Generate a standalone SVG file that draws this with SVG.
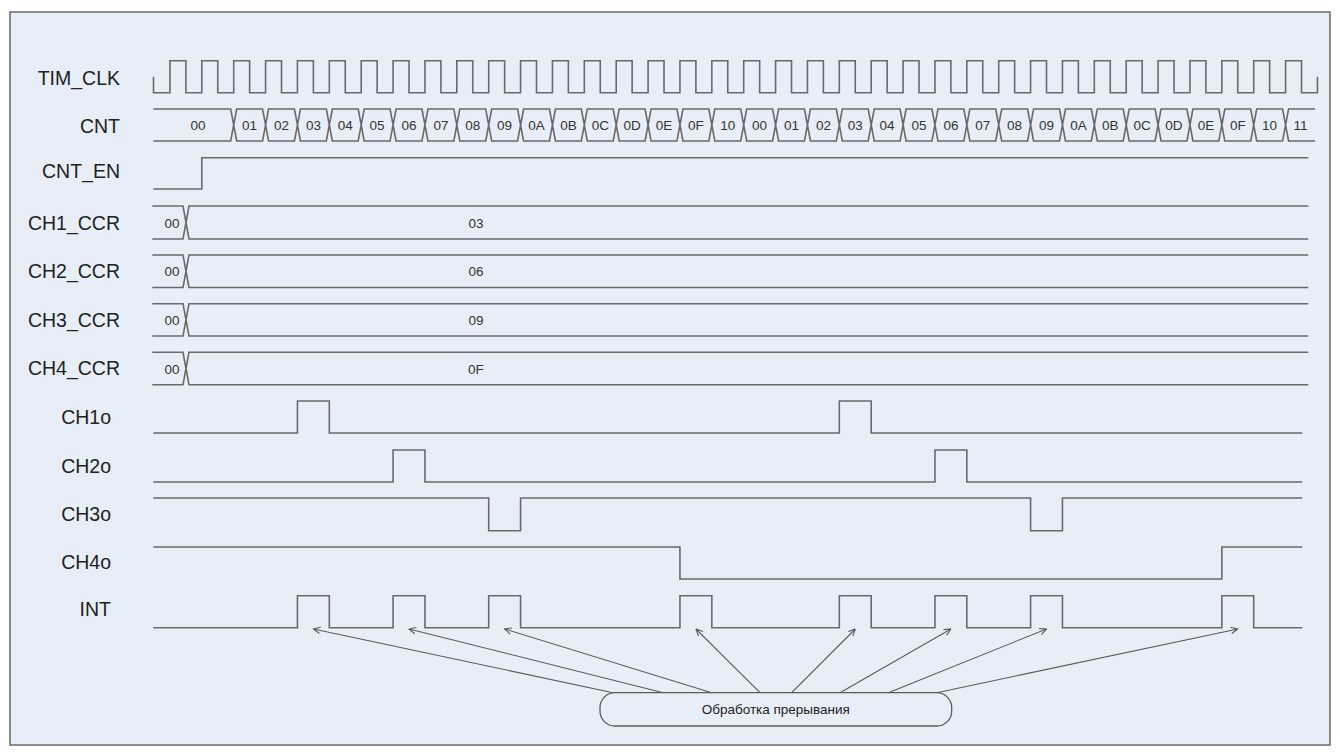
<svg xmlns="http://www.w3.org/2000/svg" width="1340" height="756" viewBox="0 0 1340 756">
<style>
.lbl{font-family:"Liberation Sans",Arial,sans-serif;font-size:19.5px;fill:#222;text-anchor:end}
.val{font-family:"Liberation Sans",Arial,sans-serif;font-size:13.5px;fill:#333;text-anchor:middle}
.w{fill:none;stroke:#6a6a6a;stroke-width:1.6;stroke-linejoin:miter}
.arr{fill:none;stroke:#5a5a5a;stroke-width:1.1;marker-end:url(#ah)}
</style>
<defs>
<marker id="ah" viewBox="0 0 10 10" refX="9.5" refY="5" markerWidth="8" markerHeight="8" markerUnits="userSpaceOnUse" orient="auto">
<path d="M1,1 L9.5,5 L1,9" fill="none" stroke="#5a5a5a" stroke-width="1.4"/>
</marker>
</defs>
<rect x="0" y="0" width="1340" height="756" fill="#ffffff"/>
<rect id="frame" x="10" y="12" width="1320" height="733" fill="#E8EEF8" stroke="#6a6a6a" stroke-width="1.5"/>

<g id="sig-tim-clk">
<text class="lbl" x="120" y="85">TIM_CLK</text>
<path class="w" d="M153.5,76.7V92.7H169.95
v-32h15.9375v32h15.9375 v-32h15.9375v32h15.9375 v-32h15.9375v32h15.9375 v-32h15.9375v32h15.9375 v-32h15.9375v32h15.9375 v-32h15.9375v32h15.9375
v-32h15.9375v32h15.9375 v-32h15.9375v32h15.9375 v-32h15.9375v32h15.9375 v-32h15.9375v32h15.9375 v-32h15.9375v32h15.9375 v-32h15.9375v32h15.9375
v-32h15.9375v32h15.9375 v-32h15.9375v32h15.9375 v-32h15.9375v32h15.9375 v-32h15.9375v32h15.9375 v-32h15.9375v32h15.9375 v-32h15.9375v32h15.9375
v-32h15.9375v32h15.9375 v-32h15.9375v32h15.9375 v-32h15.9375v32h15.9375 v-32h15.9375v32h15.9375 v-32h15.9375v32h15.9375 v-32h15.9375v32h15.9375
v-32h15.9375v32h15.9375 v-32h15.9375v32h15.9375 v-32h15.9375v32h15.9375 v-32h15.9375v32h15.9375 v-32h15.9375v32h15.9375 v-32h15.9375v32h15.9375
v-32h15.9375v32h15.9375 v-32h15.9375v32h15.9375 v-32h15.9375v32h15.9375 v-32h15.9375v32h15.9375 v-32h15.9375v32h15.9375 v-32h15.9375v32h15.9375
v-16"/>
</g>

<g id="sig-cnt">
<text class="lbl" x="120" y="132.5">CNT</text>
<path class="w" d="M153.3,109H230.7l3,16l-3,16H153.3
M233.7,125l3,-16h25.875l3,16l-3,16h-25.875z
M265.575,125l3,-16h25.875l3,16l-3,16h-25.875z
M297.45,125l3,-16h25.875l3,16l-3,16h-25.875z
M329.325,125l3,-16h25.875l3,16l-3,16h-25.875z
M361.2,125l3,-16h25.875l3,16l-3,16h-25.875z
M393.075,125l3,-16h25.875l3,16l-3,16h-25.875z
M424.95,125l3,-16h25.875l3,16l-3,16h-25.875z
M456.825,125l3,-16h25.875l3,16l-3,16h-25.875z
M488.7,125l3,-16h25.875l3,16l-3,16h-25.875z
M520.575,125l3,-16h25.875l3,16l-3,16h-25.875z
M552.45,125l3,-16h25.875l3,16l-3,16h-25.875z
M584.325,125l3,-16h25.875l3,16l-3,16h-25.875z
M616.2,125l3,-16h25.875l3,16l-3,16h-25.875z
M648.075,125l3,-16h25.875l3,16l-3,16h-25.875z
M679.95,125l3,-16h25.875l3,16l-3,16h-25.875z
M711.825,125l3,-16h25.875l3,16l-3,16h-25.875z
M743.7,125l3,-16h25.875l3,16l-3,16h-25.875z
M775.575,125l3,-16h25.875l3,16l-3,16h-25.875z
M807.45,125l3,-16h25.875l3,16l-3,16h-25.875z
M839.325,125l3,-16h25.875l3,16l-3,16h-25.875z
M871.2,125l3,-16h25.875l3,16l-3,16h-25.875z
M903.075,125l3,-16h25.875l3,16l-3,16h-25.875z
M934.95,125l3,-16h25.875l3,16l-3,16h-25.875z
M966.825,125l3,-16h25.875l3,16l-3,16h-25.875z
M998.7,125l3,-16h25.875l3,16l-3,16h-25.875z
M1030.575,125l3,-16h25.875l3,16l-3,16h-25.875z
M1062.45,125l3,-16h25.875l3,16l-3,16h-25.875z
M1094.325,125l3,-16h25.875l3,16l-3,16h-25.875z
M1126.2,125l3,-16h25.875l3,16l-3,16h-25.875z
M1158.075,125l3,-16h25.875l3,16l-3,16h-25.875z
M1189.95,125l3,-16h25.875l3,16l-3,16h-25.875z
M1221.825,125l3,-16h25.875l3,16l-3,16h-25.875z
M1253.7,125l3,-16h25.875l3,16l-3,16h-25.875z
M1285.575,125l3,-16H1315M1285.575,125l3,16H1315"/>
<g class="val">
<text x="198" y="130">00</text>
<text x="249.6" y="130">01</text>
<text x="281.5" y="130">02</text>
<text x="313.4" y="130">03</text>
<text x="345.3" y="130">04</text>
<text x="377.1" y="130">05</text>
<text x="409" y="130">06</text>
<text x="440.9" y="130">07</text>
<text x="472.8" y="130">08</text>
<text x="504.6" y="130">09</text>
<text x="536.5" y="130">0A</text>
<text x="568.4" y="130">0B</text>
<text x="600.3" y="130">0C</text>
<text x="632.1" y="130">0D</text>
<text x="664" y="130">0E</text>
<text x="695.9" y="130">0F</text>
<text x="727.8" y="130">10</text>
<text x="759.6" y="130">00</text>
<text x="791.5" y="130">01</text>
<text x="823.4" y="130">02</text>
<text x="855.3" y="130">03</text>
<text x="887.1" y="130">04</text>
<text x="919" y="130">05</text>
<text x="950.9" y="130">06</text>
<text x="982.8" y="130">07</text>
<text x="1014.6" y="130">08</text>
<text x="1046.5" y="130">09</text>
<text x="1078.4" y="130">0A</text>
<text x="1110.3" y="130">0B</text>
<text x="1142.1" y="130">0C</text>
<text x="1174" y="130">0D</text>
<text x="1205.9" y="130">0E</text>
<text x="1237.8" y="130">0F</text>
<text x="1269.6" y="130">10</text>
<text x="1300.5" y="130">11</text>
</g>
</g>

<g id="sig-cnt-en">
<text class="lbl" x="120" y="178">CNT_EN</text>
<path class="w" d="M153.3,189H201.8V157.7H1308.3"/>
</g>

<g id="sig-ch1-ccr">
<text class="lbl" x="120" y="229.5">CH1_CCR</text>
<path class="w" d="M152.3,206H183l3,16.5l-3,16.5H152.3M1308.3,206H189l-3,16.5l3,16.5H1308.3"/>
<text class="val" x="172" y="227.5">00</text>
<text class="val" x="476" y="227.5">03</text>
</g>

<g id="sig-ch2-ccr">
<text class="lbl" x="120" y="278">CH2_CCR</text>
<path class="w" d="M152.3,255H183l3,16.25l-3,16.25H152.3M1308.3,255H189l-3,16.25l3,16.25H1308.3"/>
<text class="val" x="172" y="276">00</text>
<text class="val" x="476" y="276">06</text>
</g>

<g id="sig-ch3-ccr">
<text class="lbl" x="120" y="326.5">CH3_CCR</text>
<path class="w" d="M152.3,303.7H183l3,16.15l-3,16.15H152.3M1308.3,303.7H189l-3,16.15l3,16.15H1308.3"/>
<text class="val" x="172" y="325">00</text>
<text class="val" x="476" y="325">09</text>
</g>

<g id="sig-ch4-ccr">
<text class="lbl" x="120" y="375">CH4_CCR</text>
<path class="w" d="M152.3,352.3H183l3,16.2l-3,16.2H152.3M1308.3,352.3H189l-3,16.2l3,16.2H1308.3"/>
<text class="val" x="172" y="373.5">00</text>
<text class="val" x="476" y="373.5">0F</text>
</g>

<g id="sig-ch1o">
<text class="lbl" x="111" y="424">CH1o</text>
<path class="w" d="M153.3,433H297.45V401H329.325V433H839.325V401H871.2V433H1302.3"/>
</g>

<g id="sig-ch2o">
<text class="lbl" x="111" y="472.5">CH2o</text>
<path class="w" d="M153.3,482H393.075V450H424.95V482H934.95V450H966.825V482H1302.3"/>
</g>

<g id="sig-ch3o">
<text class="lbl" x="111" y="521">CH3o</text>
<path class="w" d="M153.3,498H488.7V530.7H520.575V498H1030.575V530.7H1062.45V498H1302.3"/>
</g>

<g id="sig-ch4o">
<text class="lbl" x="111" y="569">CH4o</text>
<path class="w" d="M153.3,547H679.95V579H1221.825V547H1302.3"/>
</g>

<g id="sig-int">
<text class="lbl" x="111" y="616">INT</text>
<path class="w" d="M153.3,627.7H297.45V595.7H329.325V627.7H393.075V595.7H424.95V627.7H488.7V595.7H520.575V627.7H679.95V595.7H711.825V627.7H839.325V595.7H871.2V627.7H934.95V595.7H966.825V627.7H1030.575V595.7H1062.45V627.7H1221.825V595.7H1253.7V627.7H1302.3"/>
</g>

<g id="isr">
<rect x="600" y="692.7" width="351.7" height="33.3" rx="15" ry="15" fill="#E8EEF8" stroke="#5a5a5a" stroke-width="1.3"/>
<text x="775.8" y="714" font-family="'Liberation Sans',Arial,sans-serif" font-size="13.5px" fill="#222" text-anchor="middle">Обработка прерывания</text>
</g>

<g id="connectors">
<path class="arr" d="M613,692.7L313.4,629"/>
<path class="arr" d="M663.3,692.7L409,629"/>
<path class="arr" d="M711.7,692.7L504.6,629"/>
<path class="arr" d="M760,692.7L695.9,629"/>
<path class="arr" d="M791.7,692.7L855.3,629"/>
<path class="arr" d="M840,692.7L950.9,629"/>
<path class="arr" d="M888.3,692.7L1046.5,629"/>
<path class="arr" d="M936.7,692.7L1237.8,629"/>
</g>
</svg>
